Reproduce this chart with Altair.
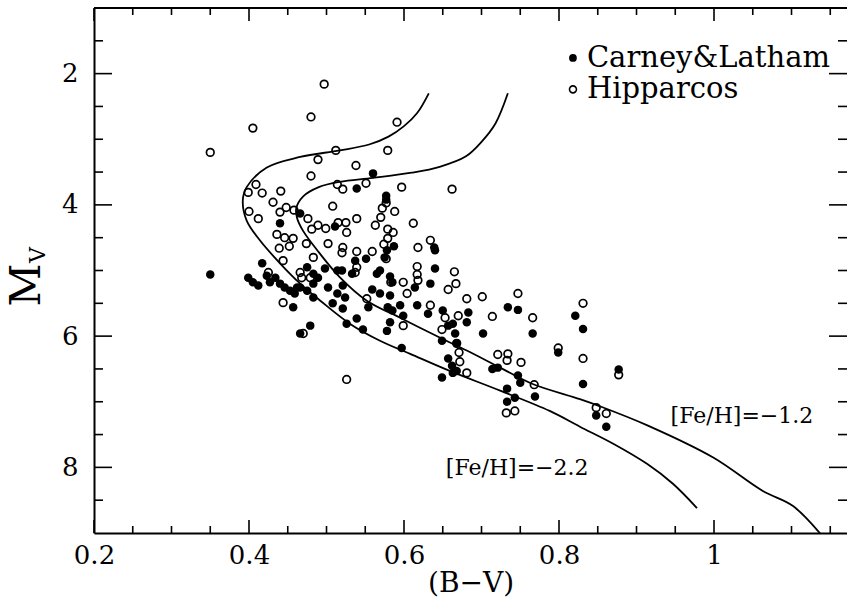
import altair as alt
import pandas as pd

# ---------------- data ----------------
# Carney & Latham (filled circles): (B-V), M_V
cl_bv = [0.440, 0.350, 0.399, 0.405, 0.412, 0.417, 0.423, 0.427, 0.434, 0.440,
         0.446, 0.453, 0.462, 0.459, 0.457, 0.466, 0.560, 0.539, 0.577, 0.577,
         0.511, 0.587, 0.578, 0.551, 0.537, 0.575, 0.639, 0.640, 0.640, 0.634,
         0.614, 0.498, 0.514, 0.520, 0.521, 0.565, 0.569, 0.582, 0.585, 0.533,
         0.475, 0.483, 0.489, 0.483, 0.502, 0.466, 0.475, 0.483, 0.514, 0.524,
         0.559, 0.569, 0.582, 0.479, 0.526, 0.539, 0.547, 0.508, 0.521, 0.554,
         0.579, 0.585, 0.595, 0.599, 0.582, 0.578, 0.617, 0.631, 0.597, 0.650,
         0.657, 0.663, 0.666, 0.668, 0.681, 0.683, 0.649, 0.657, 0.662, 0.663,
         0.668, 0.649, 0.702, 0.734, 0.747, 0.766, 0.821, 0.831, 0.714, 0.721,
         0.747, 0.750, 0.733, 0.733, 0.743, 0.769, 0.831, 0.848, 0.799, 0.877,
         0.861, 0.466]
cl_mv = [4.28, 5.06, 5.11, 5.18, 5.23, 4.89, 5.08, 5.18, 5.11, 5.20,
         5.26, 5.31, 5.26, 5.35, 5.56, 5.96, 3.52, 3.75, 3.86, 3.92,
         4.33, 4.63, 4.69, 4.82, 4.85, 4.80, 4.65, 4.69, 4.97, 5.20,
         5.26, 4.97, 5.00, 5.00, 5.23, 5.05, 5.00, 5.09, 5.18, 5.05,
         4.95, 5.05, 5.11, 5.20, 5.26, 5.26, 5.31, 5.41, 5.35, 5.41,
         5.29, 5.35, 5.38, 5.84, 5.81, 5.73, 5.90, 5.50, 5.58, 5.56,
         5.56, 5.61, 5.53, 5.69, 5.79, 5.92, 5.53, 5.66, 6.18, 5.61,
         5.84, 5.81, 5.96, 6.11, 5.79, 5.64, 6.07, 6.34, 6.45, 6.56,
         6.53, 6.63, 5.96, 5.56, 5.60, 5.96, 5.69, 5.89, 6.50, 6.48,
         6.60, 6.71, 6.80, 7.00, 6.94, 6.92, 6.73, 7.21, 6.25, 6.51,
         7.38, 4.13]

# Hipparcos (open circles): (B-V), M_V
hip_bv = [0.405, 0.350, 0.409, 0.399, 0.417, 0.441, 0.431, 0.448, 0.458, 0.400,
          0.440, 0.412, 0.436, 0.446, 0.457, 0.439, 0.452, 0.444, 0.425, 0.444,
          0.497, 0.480, 0.591, 0.512, 0.579, 0.489, 0.538, 0.480, 0.514, 0.521,
          0.551, 0.597, 0.662, 0.508, 0.577, 0.588, 0.572, 0.570, 0.476, 0.539,
          0.525, 0.515, 0.489, 0.499, 0.481, 0.563, 0.526, 0.579, 0.586, 0.612,
          0.579, 0.474, 0.502, 0.521, 0.520, 0.539, 0.559, 0.574, 0.618, 0.634,
          0.577, 0.483, 0.539, 0.537, 0.617, 0.617, 0.618, 0.665, 0.667, 0.583,
          0.599, 0.604, 0.657, 0.681, 0.701, 0.747, 0.552, 0.466, 0.479, 0.468,
          0.470, 0.526, 0.599, 0.634, 0.653, 0.670, 0.649, 0.668, 0.671, 0.672,
          0.681, 0.714, 0.766, 0.721, 0.734, 0.733, 0.751, 0.768, 0.732, 0.743,
          0.799, 0.831, 0.831, 0.848, 0.877, 0.861]
hip_mv = [2.83, 3.20, 3.69, 3.81, 3.82, 3.79, 3.96, 4.04, 4.08, 4.10,
          4.11, 4.21, 4.45, 4.50, 4.51, 4.66, 4.63, 4.85, 5.03, 5.49,
          2.16, 2.66, 2.74, 3.17, 3.17, 3.31, 3.40, 3.56, 3.69, 3.76,
          3.67, 3.73, 3.76, 4.02, 3.97, 4.10, 4.05, 4.19, 4.21, 4.21,
          4.27, 4.27, 4.31, 4.36, 4.37, 4.31, 4.42, 4.37, 4.42, 4.28,
          4.51, 4.59, 4.59, 4.65, 4.73, 4.71, 4.71, 4.60, 4.65, 4.54,
          4.82, 4.80, 4.95, 5.03, 4.94, 5.06, 5.15, 5.02, 5.20, 5.18,
          5.18, 5.35, 5.29, 5.43, 5.40, 5.35, 5.43, 5.03, 5.11, 5.11,
          5.96, 6.66, 5.84, 5.53, 5.72, 5.69, 5.90, 6.11, 6.25, 6.39,
          6.56, 5.70, 5.72, 6.28, 6.27, 6.37, 6.40, 6.74, 7.17, 7.14,
          6.18, 6.34, 5.50, 7.09, 6.59, 7.18]

# Isochrones
iso_m22_bv = [0.632, 0.617, 0.600, 0.580, 0.555, 0.517, 0.466, 0.423, 0.397, 0.392,
              0.397, 0.414, 0.440, 0.466, 0.492, 0.530, 0.569, 0.608, 0.659, 0.724,
              0.788, 0.827, 0.870, 0.914, 0.947, 0.978]
iso_m22_mv = [2.30, 2.60, 2.80, 2.96, 3.08, 3.17, 3.27, 3.43, 3.73, 3.93,
              4.24, 4.54, 4.89, 5.20, 5.46, 5.81, 6.07, 6.27, 6.53, 6.83,
              7.14, 7.38, 7.64, 7.95, 8.25, 8.62]
iso_m12_bv = [0.734, 0.718, 0.700, 0.680, 0.646, 0.610, 0.560, 0.517, 0.490, 0.470,
              0.461, 0.462, 0.470, 0.490, 0.517, 0.552, 0.595, 0.646, 0.681, 0.724,
              0.766, 0.827, 0.853, 0.914, 0.999, 1.063, 1.102, 1.140]
iso_m12_mv = [2.30, 2.76, 3.04, 3.26, 3.42, 3.51, 3.59, 3.65, 3.73, 3.87,
              4.05, 4.20, 4.40, 4.72, 5.10, 5.46, 5.72, 6.02, 6.22, 6.48,
              6.73, 6.96, 7.07, 7.36, 7.85, 8.36, 8.59, 9.05]

# Axes
x_domain = [0.2, 1.1716]
y_domain = [1, 9]
x_major = [0.2, 0.4, 0.6, 0.8, 1.0]
x_minor = [0.25, 0.3, 0.35, 0.45, 0.5, 0.55, 0.65, 0.7, 0.75, 0.85, 0.9, 0.95, 1.05, 1.1, 1.15]
y_major = [2, 4, 6, 8]
y_minor = [1.5, 2.5, 3, 3.5, 4.5, 5, 5.5, 6.5, 7, 7.5, 8.5]
frame_top = [1]

# Legend and annotations
legend_labels = ["Carney&Latham", "Hipparcos"]
legend_bv = [0.818, 0.818]
legend_text_bv = [0.836, 0.836]
legend_mv = [1.76, 2.24]
ann_labels = ["[Fe/H]=\u22121.2", "[Fe/H]=\u22122.2"]
ann_bv = [1.036, 0.746]
ann_mv = [7.21, 8.01]

# ---------------- chart ----------------
W, H = 753, 525
FONT = "DejaVu Serif"

xs = alt.Scale(domain=x_domain, nice=False, zero=False)
ys = alt.Scale(domain=y_domain, reverse=True, nice=False, zero=False)

xaxis = alt.Axis(values=x_major, format="~g", title="(B\u2212V)", ticks=False, grid=False,
                 domain=True, domainWidth=2, domainColor="black", labelFlush=False,
                 labelFont=FONT, labelFontSize=26, labelColor="black", labelPadding=9,
                 titleFont=FONT, titleFontSize=28, titleFontWeight="normal", titleColor="black",
                 titleY=58, titleBaseline="alphabetic")
yaxis = alt.Axis(values=y_major, title="", ticks=False, grid=False,
                 domain=True, domainWidth=2, domainColor="black", labelFlush=False,
                 labelFont=FONT, labelFontSize=26, labelColor="black", labelPadding=16)


def X(field="bv"):
    return alt.X(f"{field}:Q", scale=xs, axis=xaxis)


def Y(field="mv"):
    return alt.Y(f"{field}:Q", scale=ys, axis=yaxis)


hip = pd.DataFrame({"bv": hip_bv, "mv": hip_mv})
cl = pd.DataFrame({"bv": cl_bv, "mv": cl_mv})
iso = pd.concat([
    pd.DataFrame({"bv": iso_m22_bv, "mv": iso_m22_mv, "curve": "m22", "i": list(range(len(iso_m22_bv)))}),
    pd.DataFrame({"bv": iso_m12_bv, "mv": iso_m12_mv, "curve": "m12", "i": list(range(len(iso_m12_bv)))}),
])

hip_layer = alt.Chart(hip).mark_point(shape="circle", filled=False, size=58, strokeWidth=1.7,
                                      color="black", opacity=1).encode(x=X(), y=Y())
cl_layer = alt.Chart(cl).mark_point(shape="circle", filled=True, size=72, color="black",
                                    opacity=1).encode(x=X(), y=Y())
iso_layer = alt.Chart(iso).mark_line(color="black", strokeWidth=1.8, interpolate="catmull-rom",
                                     clip=True).encode(x=X(), y=Y(), detail="curve:N", order="i:Q")


def vticks(vals, length):
    d = pd.DataFrame({"v": vals})
    bottom = alt.Chart(d).mark_rule(color="black", strokeWidth=1.6).encode(
        x=X("v"), y=alt.value(H), y2=alt.value(H - length))
    top = alt.Chart(d).mark_rule(color="black", strokeWidth=1.6).encode(
        x=X("v"), y=alt.value(0), y2=alt.value(length))
    return [bottom, top]


def hticks(vals, length):
    d = pd.DataFrame({"v": vals})
    left = alt.Chart(d).mark_rule(color="black", strokeWidth=1.6).encode(
        y=Y("v"), x=alt.value(0), x2=alt.value(length))
    right = alt.Chart(d).mark_rule(color="black", strokeWidth=1.6).encode(
        y=Y("v"), x=alt.value(W - length), x2=alt.value(W))
    return [left, right]


tick_layers = vticks(x_major, 13) + vticks(x_minor, 7) + hticks(y_major, 18) + hticks(y_minor, 9)

top_frame = alt.Chart(pd.DataFrame({"v": frame_top})).mark_rule(color="black", strokeWidth=2).encode(y=Y("v"))

leg = pd.DataFrame({"bv": legend_bv, "tbv": legend_text_bv, "mv": legend_mv, "label": legend_labels})
leg_filled = alt.Chart(leg.iloc[[0]]).mark_point(shape="circle", filled=True, size=60, color="black",
                                                 opacity=1).encode(x=X(), y=Y())
leg_open = alt.Chart(leg.iloc[[1]]).mark_point(shape="circle", filled=False, size=48, strokeWidth=1.6,
                                               color="black", opacity=1).encode(x=X(), y=Y())
leg_text = alt.Chart(leg).mark_text(font=FONT, fontSize=29, align="left", baseline="middle",
                                    color="black").encode(x=X("tbv"), y=Y(), text="label:N")

ann = pd.DataFrame({"bv": ann_bv, "mv": ann_mv, "label": ann_labels})
ann_text = alt.Chart(ann).mark_text(font=FONT, fontSize=22, align="center", baseline="middle",
                                    color="black").encode(x=X(), y=Y(), text="label:N")

ytitle_m = alt.Chart(pd.DataFrame({"t": ["M"]})).mark_text(
    font=FONT, fontSize=42, angle=270, align="center", baseline="alphabetic", color="black"
).encode(text="t:N", x=alt.value(-54), y=alt.value(277))
ytitle_v = alt.Chart(pd.DataFrame({"t": ["V"]})).mark_text(
    font=FONT, fontSize=22, angle=270, align="center", baseline="alphabetic", color="black"
).encode(text="t:N", x=alt.value(-49), y=alt.value(247))

chart = alt.layer(
    hip_layer, cl_layer, iso_layer, top_frame, *tick_layers,
    leg_filled, leg_open, leg_text, ann_text, ytitle_m, ytitle_v
).properties(
    width=W, height=H,
    padding={"left": 94, "top": 8, "right": 0, "bottom": 67},
    autosize=alt.AutoSizeParams(type="none"),
    background="white",
).configure_view(stroke=None)

chart.save("out.html", embed_options={"renderer": "svg", "actions": False})
